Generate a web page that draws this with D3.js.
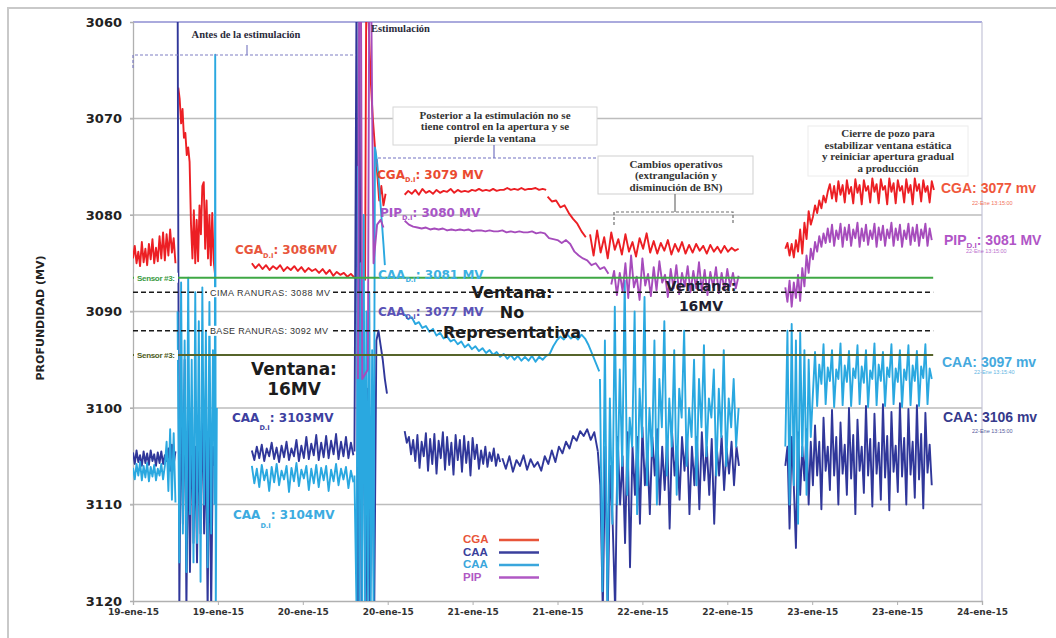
<!DOCTYPE html>
<html>
<head>
<meta charset="utf-8">
<script src="https://cdn.jsdelivr.net/npm/d3@7"></script>
<style>
  body { margin: 0; background: #fff; }
  svg { display: block; }
</style>
</head>
<body>
<svg id="chart" width="1056" height="638"></svg>
<script>
// ---- Time axis: hours counted from 19-ene-15 00:00 ----
const startDate = new Date(2015, 0, 19);
const endDate = new Date(2015, 0, 24);
const depthTicks = [3060, 3070, 3080, 3090, 3100, 3110, 3120];

// ---- CGA (gas-oil contact) ----
const cgaPre = { t0: 0, dt: 0.25, v: [3084.5, 3083.2, 3085.0, 3083.8, 3085.3, 3082.8, 3084.9, 3083.5, 3085.2, 3083.0, 3084.6, 3082.5, 3085.0, 3083.4, 3084.8, 3082.2, 3084.5, 3081.8, 3084.7, 3082.0, 3084.2, 3081.5, 3083.9, 3082.4, 3085.0] };
const cgaAntes = { t0: 6.4, dt: 0.2, v: [3066.8, 3068.0, 3070.5, 3069.0, 3072.0, 3071.5, 3073.8, 3073.0, 3074.5, 3081.0, 3084.5, 3079.5, 3085.0, 3080.5, 3084.8, 3079.0, 3082.0, 3077.0, 3076.6, 3083.5, 3078.5, 3084.5, 3080.0, 3085.2, 3079.8, 3084.7, 3086.2] };
const cgaPreStim = { t0: 16.8, dt: 0.5, v: [3085.0, 3085.5, 3085.1, 3085.6, 3085.2, 3085.7, 3085.3, 3085.6, 3085.2, 3085.8, 3085.4, 3085.7, 3085.3, 3085.8, 3085.4, 3085.9, 3085.5, 3085.8, 3085.6, 3086.0, 3085.6, 3086.1, 3085.7, 3086.3, 3085.9, 3086.2, 3086.0, 3086.4, 3086.1, 3086.5, 3086.6, 3086.8] };
const cgaStim = { t: [32.8, 33.0, 33.3, 33.6, 33.9, 34.2, 34.5, 34.8, 35.1, 35.4, 35.7], v: [3086.8, 3052.0, 3060.0, 3066.0, 3070.0, 3073.0, 3075.5, 3078.5, 3077.0, 3079.0, 3077.8] };
const cgaPost = { t0: 38.4, dt: 0.5, v: [3077.9, 3077.5, 3077.8, 3077.4, 3077.9, 3077.3, 3077.7, 3077.5, 3077.8, 3077.4, 3077.7, 3077.5, 3077.6, 3077.3, 3077.7, 3077.4, 3077.6, 3077.5, 3077.6, 3077.4, 3077.5, 3077.3, 3077.5, 3077.4, 3077.5, 3077.3, 3077.5, 3077.4, 3077.4, 3077.2, 3077.4, 3077.3, 3077.4, 3077.2, 3077.4, 3077.3, 3077.3, 3077.2, 3077.4, 3077.3, 3077.4] };
const cgaDrop = { t0: 58.6, dt: 0.6, v: [3078.1, 3078.6, 3078.5, 3079.2, 3079.0, 3079.8, 3080.4, 3080.9, 3081.7, 3082.3] };
const cgaOperativo = { t0: 64.6, dt: 0.5, v: [3082.0, 3084.2, 3081.6, 3083.9, 3082.3, 3084.5, 3081.8, 3083.6, 3082.5, 3084.1, 3082.0, 3083.8, 3082.8, 3084.3, 3082.4, 3083.5, 3081.9, 3083.9, 3082.7, 3084.0, 3082.9, 3083.7, 3082.6, 3084.1, 3083.0, 3083.8, 3082.8, 3084.0, 3083.1, 3083.9, 3083.0, 3083.7, 3083.2, 3084.0, 3083.1, 3083.8, 3083.3, 3083.9, 3083.2, 3083.8, 3083.4, 3083.7, 3083.5] };
const cgaCierre = { t0: 92.2, dt: 0.3, v: [3083.5, 3082.9, 3084.2, 3083.0, 3084.4, 3082.6, 3083.8, 3081.5, 3084.0, 3080.8, 3082.5, 3079.6, 3081.0, 3080.2, 3079.0, 3079.8, 3078.5, 3079.3, 3078.0, 3078.7,
  3077.6, 3076.8, 3078.3, 3077.0, 3078.6, 3076.5, 3077.9, 3076.9, 3078.7, 3076.4, 3077.8, 3077.1, 3078.8, 3076.3, 3077.7, 3076.9, 3078.9, 3076.4, 3077.5, 3077.0, 3078.7, 3076.2, 3077.6, 3076.8, 3078.8, 3076.3, 3077.4, 3077.0, 3078.9, 3076.2, 3077.6, 3076.7, 3078.8, 3076.4, 3077.5, 3077.0, 3078.7, 3076.3, 3077.7, 3076.9, 3078.9, 3076.2, 3077.5, 3076.8, 3078.6, 3076.4, 3077.6, 3077.0, 3078.7, 3076.5, 3077.4] };

// ---- CAA (water-oil contact), dark sensor ----
const caaDarkPre = { t0: 0, dt: 0.25, v: [3104.6, 3105.8, 3104.4, 3105.6, 3104.9, 3106.0, 3104.5, 3105.7, 3104.7, 3105.9, 3104.4, 3105.5, 3104.8, 3106.0, 3104.6, 3105.7, 3104.5, 3105.8, 3104.9, 3105.5, 3104.2, 3106.5, 3103.8, 3105.9, 3104.5] };
const caaDarkAntes = { t0: 6.3, dt: 0.25, v: [3055, 3121, 3098, 3112, 3095, 3121, 3101, 3117, 3100, 3114, 3104, 3116, 3102, 3113, 3099, 3113, 3103, 3121, 3101, 3121, 3104, 3106] };
const caaDarkPreStim = { t0: 16.8, dt: 0.35, v: [3104.4, 3105.4, 3104.0, 3105.2, 3103.8, 3105.5, 3104.2, 3105.0, 3103.6, 3105.3, 3104.1, 3105.6, 3103.9, 3105.1, 3103.5, 3105.4, 3104.2, 3105.0, 3103.3, 3105.5, 3103.9, 3105.2, 3103.0, 3105.3, 3103.7, 3104.9, 3102.8, 3105.4, 3103.6, 3105.1, 3102.9, 3105.2, 3103.4, 3104.8, 3102.7, 3105.3, 3103.5, 3105.0, 3103.0, 3105.2, 3103.6, 3104.9] };
const caaDarkStim = { t: [31.3, 31.6, 31.8, 32.0, 32.3, 32.6, 32.9, 33.2, 33.5, 33.8, 34.1, 34.4, 34.7, 35.0, 35.3, 35.6, 35.9], v: [3104.5, 3056, 3121, 3060, 3121, 3095, 3121, 3098, 3121, 3100, 3121, 3093, 3092, 3093.5, 3095, 3097, 3098.5] };
const caaDarkPost = { t0: 38.4, dt: 0.3, v: [3102.4, 3103.6, 3103.0, 3104.8, 3103.3, 3105.5, 3102.8, 3106.2, 3103.5, 3105.0, 3102.6, 3106.5, 3103.2, 3105.8, 3102.7, 3106.8, 3103.4, 3105.2, 3102.5, 3106.4, 3103.0, 3105.9, 3103.6, 3106.9, 3102.8, 3105.4, 3103.3, 3106.6, 3102.9, 3105.7, 3103.5, 3107.0, 3103.1, 3105.3, 3103.8, 3106.3, 3104.4, 3105.8, 3104.0, 3106.1, 3104.6, 3105.5, 3104.2, 3106.0, 3104.8, 3105.6] };
const caaDarkLate = { t0: 52.2, dt: 0.5, v: [3105.2, 3106.3, 3105.0, 3106.6, 3105.4, 3106.0, 3104.9, 3106.4, 3105.3, 3106.1, 3105.6, 3106.5, 3105.0, 3105.8, 3104.4, 3105.6, 3104.0, 3104.7, 3103.5, 3104.2, 3102.9, 3103.4, 3102.4, 3102.9, 3102.2, 3103.3, 3102.5, 3104.5] };
const caaDarkOperativo = { t0: 65.7, dt: 0.35, v: [3104.5, 3108, 3121, 3104, 3121, 3106, 3112, 3121, 3103, 3110, 3105, 3114, 3102.5, 3116.5, 3104, 3109, 3103, 3112, 3102, 3108, 3104.5, 3111, 3103, 3107, 3102.2, 3110, 3104, 3108.5, 3103, 3112.5, 3102.6, 3107, 3104, 3109.5, 3103, 3106.5, 3102.8, 3111, 3104, 3108, 3103, 3110.5, 3102.5, 3107.5, 3104, 3109, 3103.2, 3112, 3104, 3107, 3102.9, 3108.5, 3104.2, 3106.8, 3103.5, 3108, 3104, 3106] };
const caaDarkCierre = { t0: 92.2, dt: 0.3, v: [3106, 3104, 3112.5, 3103, 3108, 3114.5, 3102.5, 3109, 3104, 3107.5, 3102.2, 3110, 3103.5,
  3108, 3101.8, 3107, 3103.5, 3110.5, 3101, 3106.5, 3104, 3108.5, 3100.2, 3107, 3103, 3110, 3101.5, 3106.8, 3103.8, 3109, 3100, 3107.3, 3102.8, 3111, 3101.2, 3106.5, 3104, 3108.8, 3099.8, 3107, 3103.2, 3110.2, 3100.6, 3106.8, 3103.6, 3109.5, 3099.6, 3107.2, 3102.9, 3110.6, 3100.4, 3106.6, 3103.9, 3108.7, 3099.5, 3107.1, 3103.1, 3110, 3100.1, 3106.9, 3103.5, 3109.3, 3099.7, 3107.4, 3102.7, 3110.4, 3100.5, 3106.7, 3103.8, 3108] };

// ---- CAA (water-oil contact), light sensor ----
const caaLightPre = { t0: 0, dt: 0.25, v: [3106.2, 3107.4, 3105.8, 3107.0, 3105.6, 3107.5, 3106.0, 3107.2, 3105.7, 3107.6, 3106.1, 3107.1, 3105.9, 3107.5, 3106.3, 3107.0, 3105.8, 3107.4, 3106.0, 3103.5, 3108.6, 3102.2, 3109.5, 3102.6, 3109.8] };
const caaLightAntes = { t0: 6.3, dt: 0.25, v: [3090, 3116, 3087, 3113, 3093, 3117, 3086.5, 3111, 3095, 3116, 3088, 3114, 3091, 3118, 3087.5, 3110, 3092, 3116.5, 3089, 3113, 3094, 3110] };
const caaLightSpike = { t: [11.55, 11.62, 11.7, 11.85], v: [3110, 3063.4, 3121, 3100] };
const caaLightPreStim = { t0: 16.8, dt: 0.35, v: [3106.0, 3107.8, 3106.3, 3108.2, 3105.9, 3107.5, 3106.4, 3108.6, 3106.1, 3107.7, 3105.8, 3108.0, 3106.5, 3107.4, 3106.0, 3108.7, 3106.2, 3107.6, 3105.7, 3108.1, 3106.4, 3107.3, 3106.0, 3108.5, 3106.3, 3107.8, 3105.9, 3108.2, 3106.2, 3107.5, 3106.0, 3108.6, 3106.4, 3107.6, 3105.8, 3108.0, 3106.3, 3107.4, 3106.1, 3108.3, 3106.5, 3107.7] };
const caaLightStim = { t: [31.3, 31.6, 31.8, 32.0, 32.2, 32.4, 32.6, 32.8, 33.0, 33.2, 33.4, 33.6, 33.8, 34.0, 34.2, 34.5, 34.8, 35.1, 35.4, 35.6], v: [3107, 3121, 3075, 3121, 3085, 3121, 3080, 3121, 3090, 3121, 3088, 3121, 3094, 3121, 3073, 3074.5, 3077, 3080, 3083, 3085.2] };
const caaLightPost = { t0: 38.4, dt: 0.5, v: [3090.3, 3090.8, 3090.6, 3091.3, 3091.1, 3091.7, 3091.5, 3092.1, 3091.8, 3092.5, 3092.2, 3092.8, 3092.6, 3093.1, 3092.9, 3093.4, 3093.1, 3093.7, 3093.4, 3093.9, 3093.6, 3094.1, 3093.8, 3094.3, 3094.0, 3094.5, 3094.2, 3094.7, 3094.4, 3094.9, 3094.5, 3095.0, 3094.6, 3095.1, 3094.7, 3095.1, 3094.6, 3095.2, 3094.7, 3095.0, 3094.6, 3094.4, 3093.6, 3093.0, 3092.6, 3092.9, 3092.4, 3092.8, 3092.5, 3092.9, 3092.4, 3092.8, 3093.5, 3094.4, 3095.3, 3096.2] };
const caaLightOperativo = { t0: 66.0, dt: 0.35, v: [3097, 3119, 3093, 3121, 3099, 3112, 3089.5, 3110, 3096, 3106, 3086.8, 3109, 3101, 3104, 3090, 3111, 3098, 3103, 3088.5, 3108, 3100, 3105, 3093, 3110, 3097, 3102, 3091, 3107, 3099, 3104, 3094, 3109, 3098, 3101, 3092, 3106, 3100, 3103, 3095, 3108, 3097, 3102, 3093.5, 3105, 3099, 3101, 3096, 3107, 3098, 3103, 3094, 3106, 3099, 3102, 3097, 3104, 3100] };
const caaLightCierre = { t0: 92.2, dt: 0.3, v: [3104, 3092, 3110, 3091.3, 3108, 3093, 3112, 3092.2, 3105, 3094, 3109, 3095, 3103,
  3098.5, 3094.2, 3099.8, 3095.5, 3097.5, 3093.4, 3099.6, 3095.8, 3097.2, 3094.0, 3099.9, 3096.0, 3097.0, 3093.3, 3099.7, 3095.6, 3097.3, 3094.1, 3099.8, 3095.9, 3096.9, 3093.5, 3099.6, 3095.7, 3097.4, 3094.0, 3099.9, 3096.1, 3097.0, 3093.3, 3099.7, 3095.5, 3097.2, 3094.2, 3099.8, 3095.8, 3096.8, 3093.4, 3099.6, 3095.9, 3097.3, 3094.0, 3099.9, 3096.0, 3097.1, 3093.5, 3099.7, 3095.6, 3097.2, 3094.1, 3099.8, 3095.7, 3096.9, 3093.4, 3099.6, 3095.9, 3097.0] };

// ---- PIP (intake pressure) ----
const pipStim = { t: [31.8, 32.0, 32.2, 32.4, 33.2, 33.4, 33.7, 34.0, 34.5, 35.0, 35.4], v: [3097, 3052, 3052, 3097, 3096, 3055, 3060, 3085, 3081, 3080.5, 3081.3] };
const pipPost = { t0: 38.4, dt: 0.6, v: [3080.6, 3081.0, 3081.2, 3081.3, 3081.4, 3081.3, 3081.5, 3081.4, 3081.5, 3081.4, 3081.6, 3081.5, 3081.6, 3081.5, 3081.6, 3081.5, 3081.7, 3081.6, 3081.6, 3081.7, 3081.6, 3081.7, 3081.7, 3081.6, 3081.8, 3081.7, 3081.8, 3081.7, 3081.8, 3081.8, 3081.7, 3081.9, 3081.8, 3081.9, 3082.4, 3082.5, 3082.6, 3082.9, 3082.6, 3083.0, 3083.8, 3084.2, 3084.5, 3084.7, 3085.2, 3085.0, 3085.6, 3085.4, 3086.1] };
const pipOperativo = { t0: 67.6, dt: 0.4, v: [3087.2, 3085.8, 3088.3, 3086.0, 3087.9, 3085.0, 3088.6, 3084.2, 3087.5, 3086.4, 3088.8, 3084.5, 3087.3, 3086.1, 3088.4, 3085.4, 3087.8, 3084.8, 3087.0, 3086.2, 3088.5, 3085.6, 3087.6, 3085.2, 3088.2, 3086.0, 3087.4, 3085.3, 3088.0, 3085.8, 3087.6, 3084.9, 3087.9, 3085.7, 3088.3, 3085.9, 3087.5, 3085.4, 3088.1, 3086.0, 3087.8, 3085.6, 3087.4, 3086.0, 3087.6, 3086.3] };
const pipCierre = { t0: 92.2, dt: 0.3, v: [3087.5, 3089.0, 3086.8, 3089.5, 3087.0, 3088.6, 3086.2, 3088.9, 3085.5, 3087.4, 3084.2, 3086.0, 3083.5, 3084.6, 3082.8, 3083.8, 3082.2, 3083.3, 3081.9, 3082.9,
  3081.4, 3082.8, 3081.0, 3083.2, 3081.6, 3082.5, 3080.9, 3083.3, 3081.3, 3082.6, 3081.0, 3083.2, 3081.5, 3082.4, 3080.8, 3083.3, 3081.4, 3082.7, 3081.0, 3083.1, 3081.6, 3082.5, 3080.9, 3083.3, 3081.3, 3082.6, 3081.1, 3083.2, 3081.5, 3082.4, 3080.8, 3083.2, 3081.4, 3082.6, 3081.0, 3083.3, 3081.6, 3082.5, 3080.9, 3083.1, 3081.3, 3082.7, 3081.0, 3083.2, 3081.5, 3082.4, 3080.9, 3083.2, 3081.4, 3082.6] };

// ---- Reference levels ----
const sensorUpper = 3086.5;
const sensorLower = 3094.5;
const cimaRanuras = 3088;
const baseRanuras = 3092;
const refEndHour = 113.1;

// Draw order follows the legend: CGA, CAA (dark), CAA (light), PIP
const series = [
  { name: 'CGA', color: '#ec1f24', legendColor: '#e8553a', segs: [cgaPre, cgaAntes, cgaPreStim, cgaStim, cgaPost, cgaDrop, cgaOperativo, cgaCierre] },
  { name: 'CAA', color: '#30379a', legendColor: '#3a3f9c', segs: [caaDarkPre, caaDarkAntes, caaDarkPreStim, caaDarkStim, caaDarkPost, caaDarkLate, caaDarkOperativo, caaDarkCierre] },
  { name: 'CAA', color: '#2aa8e0', legendColor: '#3aa6dc', segs: [caaLightPre, caaLightAntes, caaLightSpike, caaLightPreStim, caaLightStim, caaLightPost, caaLightOperativo, caaLightCierre] },
  { name: 'PIP', color: '#a64cbc', legendColor: '#b058c4', segs: [pipStim, pipPost, pipOperativo, pipCierre] }
];

// ---- Scales ----
const plot = { left: 133, right: 982, top: 22, bottom: 601 };
const x = d3.scaleTime().domain([startDate, endDate]).range([plot.left, plot.right]);
const y = d3.scaleLinear().domain([3060, 3120]).range([plot.top, plot.bottom]);
const at = h => new Date(startDate.getTime() + h * 3600e3);
const xh = h => x(at(h));

const svg = d3.select('#chart');

// outer frame
svg.append('rect').attr('x', 8).attr('y', 8).attr('width', 1070).attr('height', 660)
  .attr('fill', 'none').attr('stroke', '#c9c9c9').attr('stroke-width', 2);

// clip for data
svg.append('defs').append('clipPath').attr('id', 'plotClip')
  .append('rect').attr('x', plot.left).attr('y', plot.top)
  .attr('width', plot.right - plot.left).attr('height', plot.bottom - plot.top);

// horizontal gridlines
svg.append('g').selectAll('line').data(depthTicks.slice(1, -1)).join('line')
  .attr('x1', plot.left - 3).attr('x2', plot.right)
  .attr('y1', d => y(d)).attr('y2', d => y(d))
  .attr('stroke', '#bdbdbd').attr('stroke-width', 1.3);
// top boundary and right border
svg.append('line').attr('x1', plot.left).attr('x2', plot.right).attr('y1', y(3060)).attr('y2', y(3060))
  .attr('stroke', '#8e8ed2').attr('stroke-width', 1.4);
svg.append('line').attr('x1', plot.right).attr('x2', plot.right).attr('y1', plot.top).attr('y2', plot.bottom)
  .attr('stroke', '#c4c4d8').attr('stroke-width', 1.2);

// y axis
const yAxis = d3.axisLeft(y).tickValues(depthTicks).tickSize(3).tickFormat(d3.format('d'));
const gy = svg.append('g').attr('transform', `translate(${plot.left},0)`).call(yAxis);
gy.select('.domain').attr('stroke', '#b0b0b0').attr('stroke-width', 1.3);
gy.selectAll('.tick line').attr('stroke', '#b0b0b0');
gy.selectAll('.tick text').attr('x', -11)
  .style('font-family', '"DejaVu Sans", Verdana, sans-serif').style('font-weight', 'bold')
  .style('font-size', '13px').attr('fill', '#222');

// x axis
const xAxis = d3.axisBottom(x).ticks(d3.timeHour.every(12)).tickSize(4)
  .tickFormat(d3.timeFormat('%d-ene-%y'));
const gx = svg.append('g').attr('transform', `translate(0,${plot.bottom})`).call(xAxis);
gx.select('.domain').attr('stroke', '#b0b0b0').attr('stroke-width', 1.3);
gx.selectAll('.tick line').attr('stroke', '#b0b0b0');
gx.selectAll('.tick text').attr('y', 8)
  .style('font-family', '"DejaVu Sans", Verdana, sans-serif').style('font-weight', 'bold')
  .style('font-size', '9px').attr('fill', '#333');

// y title
svg.append('text').attr('transform', 'translate(44,318) rotate(-90)')
  .attr('text-anchor', 'middle')
  .style('font-family', '"DejaVu Sans", Verdana, sans-serif').style('font-weight', 'bold')
  .style('font-size', '11px').attr('fill', '#222').text('PROFUNDIDAD (MV)');

// ---- data lines ----
const toPoints = seg => seg.v.map((v, i) => [at(seg.t ? seg.t[i] : seg.t0 + i * seg.dt), v]);
const line = d3.line().x(d => x(d[0])).y(d => y(d[1]));
const dataG = svg.append('g').attr('clip-path', 'url(#plotClip)');
series.forEach(s => {
  dataG.append('g').selectAll('path').data(s.segs).join('path')
    .attr('d', seg => line(toPoints(seg)))
    .attr('fill', 'none').attr('stroke', s.color).attr('stroke-width', 1.9)
    .attr('stroke-linejoin', 'round');
});

// ---- reference lines ----
const refG = svg.append('g');
refG.append('line').attr('x1', plot.left).attr('x2', xh(refEndHour))
  .attr('y1', y(sensorUpper)).attr('y2', y(sensorUpper))
  .attr('stroke', '#3fa845').attr('stroke-width', 1.8);
refG.append('line').attr('x1', plot.left).attr('x2', xh(refEndHour))
  .attr('y1', y(sensorLower)).attr('y2', y(sensorLower))
  .attr('stroke', '#56642a').attr('stroke-width', 2);
[cimaRanuras, baseRanuras].forEach(v => {
  refG.append('line').attr('x1', plot.left).attr('x2', xh(refEndHour))
    .attr('y1', y(v)).attr('y2', y(v))
    .attr('stroke', '#1a1a1a').attr('stroke-width', 1.6).attr('stroke-dasharray', '5,3');
});

// small labels over the reference lines
function refLabel(txt, x0, w, v, color, size, weight) {
  refG.append('rect').attr('x', x0 - 3).attr('y', y(v) - 5).attr('width', w + 6).attr('height', 10).attr('fill', '#fff');
  refG.append('text').attr('x', x0).attr('y', y(v) + 3.5)
    .style('font-family', '"Liberation Sans", Arial, sans-serif').style('font-size', size + 'px')
    .style('font-weight', weight).attr('fill', color).attr('textLength', w).text(txt);
}
refLabel('CIMA RANURAS: 3088 MV', 210, 120, cimaRanuras, '#333', 9, 'normal');
refLabel('BASE RANURAS: 3092 MV', 210, 118, baseRanuras, '#333', 9, 'normal');
refLabel('Sensor #3:', 137, 38, sensorUpper, '#3a9a3f', 8, 'bold');
refLabel('Sensor #3:', 137, 38, sensorLower, '#4e5c22', 8, 'bold');

// ---- series value labels ----
function valueLabel(x0, yb, main, sub, rest, color, size, subDy) {
  const t = svg.append('text').attr('x', x0).attr('y', yb)
    .style('font-family', '"DejaVu Sans", Verdana, sans-serif').style('font-weight', 'bold')
    .style('font-size', size + 'px').attr('fill', color);
  t.append('tspan').text(main);
  if (sub) {
    t.append('tspan').attr('dy', subDy).style('font-size', (size * 0.55) + 'px').text(sub);
    t.append('tspan').attr('dy', -subDy).text(rest);
  } else {
    t.append('tspan').text(rest);
  }
}
valueLabel(235, 254, 'CGA', 'D.I', ': 3086MV', '#e8553c', 12, 4);
valueLabel(377, 179, 'CGA', 'D.I', ': 3079 MV', '#ea4a30', 12, 3);
valueLabel(380, 217, 'PIP', 'D.I', ': 3080 MV', '#a855c6', 12, 3);
valueLabel(378, 279, 'CAA', 'D.I', ': 3081 MV', '#3cb0e2', 12, 3);
valueLabel(378, 316, 'CAA', 'D.I', ': 3077 MV', '#5a52b6', 12, 3);
valueLabel(232, 422, 'CAA', 'D.I', ': 3103MV', '#3d3fa0', 12, 8);
valueLabel(233, 519, 'CAA', 'D.I', ': 3104MV', '#3cabe0', 12, 9);

// right-hand current readings
function readLabel(x0, yb, main, sub, rest, color, stamp, sx, sy) {
  const t = svg.append('text').attr('x', x0).attr('y', yb)
    .style('font-family', '"Liberation Sans", Arial, sans-serif').style('font-weight', 'bold')
    .style('font-size', '14px').attr('fill', color);
  t.append('tspan').text(main);
  if (sub) {
    t.append('tspan').attr('dy', 3).style('font-size', '8px').text(sub);
    t.append('tspan').attr('dy', -3).text(rest);
  } else t.append('tspan').text(rest);
  svg.append('text').attr('x', sx).attr('y', sy)
    .style('font-family', '"Liberation Sans", Arial, sans-serif').style('font-size', '5.5px')
    .attr('fill', color).attr('opacity', 0.85).text(stamp);
}
readLabel(941, 193, 'CGA: 3077  mv', null, '', '#f0573c', '22-Ene 13:15:00', 972, 205);
readLabel(944, 245, 'PIP', 'D.I', ': 3081 MV', '#b055c6', '22-Ene 13:15:00', 966, 253);
readLabel(942, 367, 'CAA: 3097 mv', null, '', '#45a9de', '22-Ene 13:15:40', 974, 374);
readLabel(943, 422, 'CAA: 3106 mv', null, '', '#363a8c', '22-Ene 13:15:00', 972, 433);

// ---- window notes ----
function bigText(cx, lines, y0, gap, size, color) {
  const t = svg.append('text').attr('text-anchor', 'middle')
    .style('font-family', '"DejaVu Sans", Verdana, sans-serif').style('font-weight', 'bold')
    .style('font-size', size + 'px').attr('fill', color);
  lines.forEach((l, i) => t.append('tspan').attr('x', cx).attr('y', y0 + i * gap).text(l));
}
bigText(294, ['Ventana:', '16MV'], 375, 20, 17, '#1c1c1c');
bigText(512, ['Ventana:', 'No', 'Representativa'], 298, 20, 16, '#1c1c1c');
bigText(701, ['Ventana:', '16MV'], 291, 20, 14, '#1e1e30');

// ---- annotation boxes and brackets ----
const noteFont = '"Liberation Serif", "Times New Roman", serif';
function note(cx, lines, y0, gap, box, boxStroke) {
  if (box) svg.append('rect').attr('x', box[0]).attr('y', box[1]).attr('width', box[2]).attr('height', box[3])
    .attr('fill', '#fff').attr('stroke', boxStroke).attr('stroke-width', 1);
  const t = svg.append('text').attr('text-anchor', 'middle')
    .style('font-family', noteFont).style('font-weight', 'bold').style('font-size', '11px').attr('fill', '#333');
  lines.forEach((l, i) => t.append('tspan').attr('x', cx).attr('y', y0 + i * gap).text(l));
}
function bracket(x1, x2, yb, yl, yr, cx, ytop, color) {
  const g = svg.append('g').attr('fill', 'none').attr('stroke', color).attr('stroke-width', 1.2);
  g.append('path').attr('d', `M${x1},${yl} L${x1},${yb} L${x2},${yb} L${x2},${yr}`).attr('stroke-dasharray', '3,2');
  g.append('path').attr('d', `M${cx},${ytop} L${cx},${yb}`);
}

// "Antes de la estimulación"
bracket(plot.left, 356, 55, 68, 55, 247, 45, '#7f7fc4');
svg.append('text').attr('x', 246).attr('y', 38).attr('text-anchor', 'middle')
  .style('font-family', noteFont).style('font-weight', 'bold').style('font-size', '10.5px')
  .attr('fill', '#2a2a3a').text('Antes de la estimulación');
svg.append('text').attr('x', 371).attr('y', 32)
  .style('font-family', noteFont).style('font-weight', 'bold').style('font-size', '10.5px')
  .attr('fill', '#2a2a3a').text('Estimulación');

note(495, ['Posterior a la estimulación no se', 'tiene control en la apertura y se', 'pierde la ventana'], 119, 11.3, [393, 107, 204, 38], '#d6d6d6');
bracket(377, 611, 158, 167, 173, 494, 145, '#7373c2');

note(676, ['Cambios operativos', '(extrangulación y', 'disminución  de BN)'], 168, 11.3, [598, 156, 155, 38], '#cfcfcf');
bracket(614, 733, 212, 225, 225, 675, 194, '#707070');

note(888, ['Cierre de pozo para', 'estabilizar ventana estática', 'y reiniciar  apertura gradual', 'a producción'], 137, 11.7, [808, 126, 160, 50], '#ececec');

// ---- legend ----
const legend = svg.append('g').attr('transform', 'translate(463,539)');
series.forEach((s, i) => {
  const gy0 = i * 12.5;
  legend.append('text').attr('x', 0).attr('y', gy0 + 4)
    .style('font-family', '"Liberation Sans", Arial, sans-serif').style('font-weight', 'bold')
    .style('font-size', '11.5px').attr('fill', s.legendColor).text(s.name);
  legend.append('line').attr('x1', 36).attr('x2', 76).attr('y1', gy0 + 1).attr('y2', gy0 + 1)
    .attr('stroke', s.legendColor).attr('stroke-width', 2.5);
});
</script>
</body>
</html>
